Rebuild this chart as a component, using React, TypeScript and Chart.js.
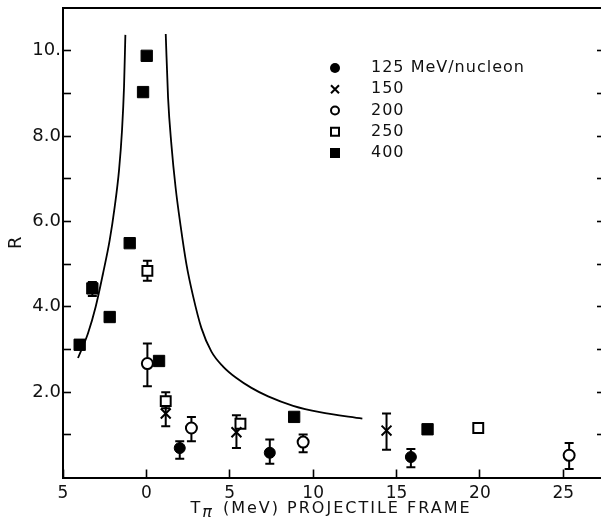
import React, { useEffect, useRef } from 'react';
import { Chart, registerables } from 'chart.js';

Chart.register(...registerables);

// ---- axis ticks ----
const X_TICKS = [-5, 0, 5, 10, 15, 20, 25];
const X_TICK_LABELS = ['5', '0', '5', '10', '15', '20', '25'];
const Y_TICKS = [1, 2, 3, 4, 5, 6, 7, 8, 9, 10];
const Y_TICK_LABELS = ['', '2.0', '', '4.0', '', '6.0', '', '8.0', '', '10.'];

// ---- series: 125 MeV/nucleon (filled circle) ----
const E125_X = [2.0, 7.4, 15.86];
const E125_Y = [0.69, 0.58, 0.48];
const E125_LO = [0.44, 0.32, 0.24];
const E125_HI = [0.85, 0.89, 0.67];

// ---- 150 (x) ----
const E150_X = [1.16, 5.4, 14.4];
const E150_Y = [1.5, 1.06, 1.1];
const E150_LO = [1.2, 0.69, 0.65];
const E150_HI = [1.73, 1.46, 1.5];

// ---- 200 (open circle) ----
const E200_X = [0.06, 2.7, 9.4, 25.35];
const E200_Y = [2.67, 1.16, 0.83, 0.52];
const E200_LO = [2.14, 0.85, 0.59, 0.2];
const E200_HI = [3.14, 1.42, 1.01, 0.81];

// ---- 250 (open square) ----
const E250_X = [0.06, 1.16, 5.64, 19.9];
const E250_Y = [4.84, 1.79, 1.26, 1.16];
const E250_LO = [4.61, 1.62, null, null];
const E250_HI = [5.08, 2.0, null, null];

// ---- 400 (filled square) ----
const E400_X = [-4.0, -3.24, -2.2, -1.0, -0.2, 0.02, 0.76, 8.86, 16.86];
const E400_Y = [3.11, 4.43, 3.76, 5.49, 9.03, 9.88, 2.73, 1.42, 1.13];
const E400_LO = [null, 4.25, null, null, null, null, null, null, null];
const E400_HI = [null, 4.58, null, null, null, null, null, null, null];

// ---- theory curve, two branches ----
const CURVE_L_X = [-4.1, -3.5, -3.04, -2.6, -2.2, -1.9, -1.64, -1.46, -1.34, -1.26];
const CURVE_L_Y = [2.8, 3.38, 4.0, 4.78, 5.56, 6.34, 7.2, 8.14, 9.16, 10.37];
const CURVE_R_X = [1.16, 1.3, 1.5, 1.75, 2.05, 2.4, 2.8, 3.3, 3.9, 4.6, 5.4, 6.3, 7.3, 8.8, 10.4, 12.95];
const CURVE_R_Y = [10.39, 8.9, 7.8, 6.8, 5.9, 5.0, 4.25, 3.5, 2.95, 2.6, 2.33, 2.1, 1.9, 1.68, 1.53, 1.38];

const SERIES_LABELS = ['125 MeV/nucleon', '150', '200', '250', '400'];

const FONT = '"DejaVu Sans", sans-serif';

const pts = (xs: number[], ys: number[]) => xs.map((x, i) => ({ x, y: ys[i] }));

const errorBarPlugin = {
  id: 'errorBars',
  beforeDatasetsDraw(chart: any) {
    const { ctx } = chart;
    const xs = chart.scales.x;
    const ys = chart.scales.y;
    ctx.save();
    ctx.strokeStyle = '#000';
    ctx.lineWidth = 2;
    chart.data.datasets.forEach((ds: any) => {
      if (!ds.errLo) return;
      ds.data.forEach((p: any, j: number) => {
        const lo = ds.errLo[j];
        const hi = ds.errHi[j];
        if (lo == null || hi == null) return;
        const px = xs.getPixelForValue(p.x);
        const pl = ys.getPixelForValue(lo);
        const ph = ys.getPixelForValue(hi);
        ctx.beginPath();
        ctx.moveTo(px, pl);
        ctx.lineTo(px, ph);
        ctx.moveTo(px - 4.5, pl);
        ctx.lineTo(px + 4.5, pl);
        ctx.moveTo(px - 4.5, ph);
        ctx.lineTo(px + 4.5, ph);
        ctx.stroke();
      });
    });
    ctx.restore();
  },
};

function drawMarker(ctx: CanvasRenderingContext2D, kind: string, x: number, y: number) {
  ctx.save();
  ctx.strokeStyle = '#000';
  ctx.fillStyle = '#000';
  ctx.lineWidth = 2;
  ctx.beginPath();
  if (kind === 'fcircle') {
    ctx.arc(x, y, 5, 0, Math.PI * 2);
    ctx.fill();
  } else if (kind === 'cross') {
    ctx.moveTo(x - 4, y - 4);
    ctx.lineTo(x + 4, y + 4);
    ctx.moveTo(x + 4, y - 4);
    ctx.lineTo(x - 4, y + 4);
    ctx.stroke();
  } else if (kind === 'ocircle') {
    ctx.arc(x, y, 4, 0, Math.PI * 2);
    ctx.stroke();
  } else if (kind === 'osquare') {
    ctx.rect(x - 4, y - 4, 8, 8);
    ctx.stroke();
  } else {
    ctx.rect(x - 5, y - 5, 10, 10);
    ctx.fill();
  }
  ctx.restore();
}

const legendPlugin = {
  id: 'customLegend',
  afterDraw(chart: any) {
    const { ctx, chartArea } = chart;
    const kinds = ['fcircle', 'cross', 'ocircle', 'osquare', 'fsquare'];
    const mx = chartArea.left + 272;
    const tx = chartArea.left + 308;
    const y0 = chartArea.top + 60;
    ctx.save();
    ctx.font = `16px ${FONT}`;
    (ctx as any).letterSpacing = '1px';
    ctx.fillStyle = '#111';
    ctx.textAlign = 'left';
    ctx.textBaseline = 'middle';
    SERIES_LABELS.forEach((label, i) => {
      const y = y0 + i * 21.25;
      drawMarker(ctx, kinds[i], mx, y);
      ctx.fillText(label, tx, y);
    });
    ctx.restore();
  },
};

const xTitlePlugin = {
  id: 'xTitle',
  afterDraw(chart: any) {
    const { ctx } = chart;
    const xs = chart.scales.x;
    const cx = (xs.getPixelForValue(-5) + xs.getPixelForValue(27.5)) / 2 - 3;
    const base = 513;
    ctx.save();
    ctx.fillStyle = '#111';
    ctx.textBaseline = 'alphabetic';
    ctx.textAlign = 'left';
    (ctx as any).letterSpacing = '2px';
    const mainFont = `16px ${FONT}`;
    const subFont = `italic 16px ${FONT}`;
    const rest = ' (MeV) PROJECTILE FRAME';
    ctx.font = mainFont;
    const wT = ctx.measureText('T').width;
    const wR = ctx.measureText(rest).width;
    ctx.font = subFont;
    const wP = ctx.measureText('\u03C0').width + 2;
    let x = cx - (wT + wP + wR) / 2;
    ctx.font = mainFont;
    ctx.fillText('T', x, base);
    x += wT;
    ctx.font = subFont;
    ctx.fillText('\u03C0', x, base + 4);
    x += wP;
    ctx.font = mainFont;
    ctx.fillText(rest, x, base);
    ctx.restore();
  },
};

export default function App() {
  const ref = useRef<HTMLCanvasElement>(null);

  useEffect(() => {
    document.body.style.margin = '0';
    const canvas = ref.current;
    if (!canvas) return;

    const tickGrid = {
      drawOnChartArea: false,
      drawTicks: true,
      tickLength: -8,
      tickColor: '#000',
      tickWidth: 1.6,
    };

    const chart = new Chart(canvas, {
      type: 'scatter',
      data: {
        datasets: [
          {
            label: 'curve-left',
            data: pts(CURVE_L_X, CURVE_L_Y),
            showLine: true,
            borderColor: '#000',
            borderWidth: 1.8,
            pointRadius: 0,
            cubicInterpolationMode: 'monotone',
          },
          {
            label: 'curve-right',
            data: pts(CURVE_R_X, CURVE_R_Y),
            showLine: true,
            borderColor: '#000',
            borderWidth: 1.8,
            pointRadius: 0,
            cubicInterpolationMode: 'monotone',
          },
          {
            label: SERIES_LABELS[0],
            data: pts(E125_X, E125_Y),
            pointStyle: 'circle',
            pointRadius: 5.5,
            backgroundColor: '#000',
            borderColor: '#000',
            borderWidth: 1,
            errLo: E125_LO,
            errHi: E125_HI,
          } as any,
          {
            label: SERIES_LABELS[1],
            data: pts(E150_X, E150_Y),
            pointStyle: 'crossRot',
            pointRadius: 7,
            borderColor: '#000',
            borderWidth: 2,
            errLo: E150_LO,
            errHi: E150_HI,
          } as any,
          {
            label: SERIES_LABELS[2],
            data: pts(E200_X, E200_Y),
            pointStyle: 'circle',
            pointRadius: 5.5,
            backgroundColor: '#fff',
            borderColor: '#000',
            borderWidth: 2,
            errLo: E200_LO,
            errHi: E200_HI,
          } as any,
          {
            label: SERIES_LABELS[3],
            data: pts(E250_X, E250_Y),
            pointStyle: 'rect',
            pointRadius: 7,
            backgroundColor: '#fff',
            borderColor: '#000',
            borderWidth: 2,
            errLo: E250_LO,
            errHi: E250_HI,
          } as any,
          {
            label: SERIES_LABELS[4],
            data: pts(E400_X, E400_Y),
            pointStyle: 'rect',
            pointRadius: 8,
            backgroundColor: '#000',
            borderColor: '#000',
            borderWidth: 1,
            errLo: E400_LO,
            errHi: E400_HI,
          } as any,
        ],
      },
      options: {
        responsive: false,
        animation: false,
        devicePixelRatio: 1,
        layout: { autoPadding: false, padding: { top: 8, right: 1, bottom: 0, left: 0 } },
        plugins: {
          legend: { display: false },
          tooltip: { enabled: false },
        },
        scales: {
          x: {
            type: 'linear',
            position: 'bottom',
            min: -5,
            max: 27.5,
            afterBuildTicks: (s: any) => {
              s.ticks = X_TICKS.map((v) => ({ value: v }));
            },
            afterFit: (s: any) => {
              s.height = 45.5;
              s.paddingLeft = 0;
              s.paddingRight = 0;
            },
            ticks: {
              padding: 14,
              color: '#111',
              font: { family: FONT, size: 17 },
              maxRotation: 0,
              autoSkip: false,
              callback: (v: any) => {
                const i = X_TICKS.indexOf(Number(v));
                return i >= 0 ? X_TICK_LABELS[i] : '';
              },
            },
            grid: tickGrid,
            border: { display: true, color: '#000', width: 2 },
          },
          x2: {
            type: 'linear',
            position: 'top',
            min: -5,
            max: 27.5,
            afterFit: (s: any) => {
              s.height = 0;
              s.paddingLeft = 0;
              s.paddingRight = 0;
            },
            ticks: { display: false },
            grid: { drawOnChartArea: false, drawTicks: false },
            border: { display: true, color: '#000', width: 2 },
          },
          y: {
            type: 'linear',
            position: 'left',
            min: 0,
            max: 11,
            afterBuildTicks: (s: any) => {
              s.ticks = Y_TICKS.map((v) => ({ value: v }));
            },
            afterFit: (s: any) => {
              s.width = 63;
              s.paddingTop = 0;
              s.paddingBottom = 0;
            },
            ticks: {
              padding: 10,
              color: '#111',
              font: { family: FONT, size: 18 },
              autoSkip: false,
              callback: (v: any) => {
                const i = Y_TICKS.indexOf(Number(v));
                return i >= 0 ? Y_TICK_LABELS[i] : '';
              },
            },
            title: {
              display: true,
              text: 'R',
              color: '#111',
              font: { family: FONT, size: 18 },
              padding: { top: 6, bottom: 0 },
            },
            grid: tickGrid,
            border: { display: true, color: '#000', width: 2 },
          },
          y2: {
            type: 'linear',
            position: 'right',
            min: 0,
            max: 11,
            afterBuildTicks: (s: any) => {
              s.ticks = Y_TICKS.map((v) => ({ value: v }));
            },
            afterFit: (s: any) => {
              s.width = 0;
              s.paddingTop = 0;
              s.paddingBottom = 0;
            },
            ticks: { display: false },
            grid: tickGrid,
            border: { display: true, color: '#000', width: 2 },
          },
        },
      } as any,
      plugins: [errorBarPlugin, legendPlugin, xTitlePlugin],
    });

    return () => chart.destroy();
  }, []);

  return (
    <div style={{ width: 601, height: 523, overflow: 'hidden', position: 'relative', background: '#fff' }}>
      <canvas ref={ref} width={606} height={523} style={{ display: 'block', width: 606, height: 523 }} />
    </div>
  );
}
